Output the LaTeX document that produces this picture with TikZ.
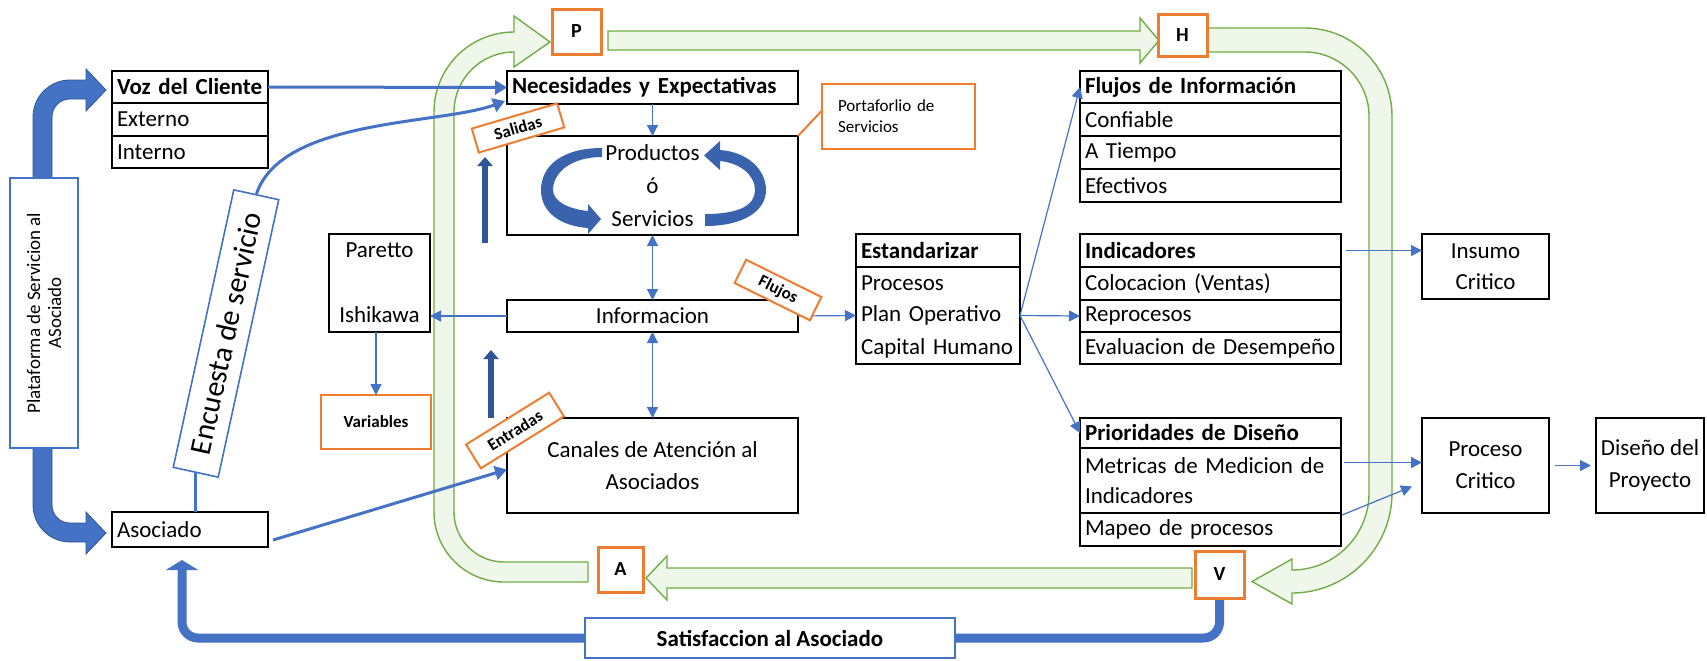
\documentclass[tikz,border=0pt]{standalone}
\usepackage{fontspec}
\setmainfont{Carlito}
\usetikzlibrary{arrows.meta,calc}
\definecolor{cblue}{HTML}{4472C4}
\definecolor{cdblue}{HTML}{2F5597}
\definecolor{cring}{HTML}{3A63AD}
\definecolor{corange}{HTML}{ED7D31}
\definecolor{cgreen}{HTML}{70AD47}
\definecolor{cgreenfill}{HTML}{EFF6EA}
\newcommand\bodyfs{\fontsize{11.5}{15}\selectfont}
\tikzset{
  spanC/.style n args={4}{inner sep=0pt, outer sep=0pt,
    minimum width={(#3-#1)*0.5pt}, minimum height={(#4-#2)*0.5pt},
    align=center, at={({(#1+#3)/2},{(#2+#4)/2})}},
  spanL/.style n args={4}{inner xsep=2.5pt, inner ysep=0pt, outer sep=0pt,
    text width={(#3-#1)*0.5pt-5pt}, minimum height={(#4-#2)*0.5pt},
    align=left, at={({(#1+#3)/2},{(#2+#4)/2})}},
  cell/.style={draw=black, line width=0.6pt, fill=white},
  tframe/.style={line width=1.1pt},
  nbox/.style={draw=black, line width=1.1pt, fill=white},
  obox/.style={draw=corange, line width=1pt, fill=white},
  pdca/.style={draw=corange, line width=1.5pt, fill=white, font=\fontsize{10}{12}\selectfont\bfseries},
  bluebox/.style={draw=cblue, line width=0.8pt, fill=white},
  tagbox/.style={draw=corange, line width=1pt, fill=white, inner sep=0pt, font=\fontsize{8.5}{10}\selectfont\bfseries},
  flowarrow/.style={draw=cblue, line width=0.6pt, -{Triangle[width=5.5pt,length=5.5pt]}},
  flowboth/.style={draw=cblue, line width=0.6pt, {Triangle[width=5.5pt,length=5.5pt]}-{Triangle[width=5.5pt,length=5.5pt]}},
  medarrow/.style={draw=cblue, line width=1.5pt, -{Triangle[width=7pt,length=6pt]}},
  band/.style={fill=cgreenfill, draw=cgreen, line width=0.7pt},
  bigarrow/.style={fill=cblue, draw=cdblue, line width=0.4pt},
  upthick/.style={draw=cdblue, line width=3pt, -{Triangle[width=7.5pt,length=4.5pt]}},
}
\begin{document}
\begin{tikzpicture}[x=0.5pt,y=-0.5pt, every node/.style={font=\bodyfs}]
\useasboundingbox (0,0) rectangle (1707,660);

% PDCA cycle band
\path[band] (588,582) -- (504,582) .. controls (465.3,582) and (434,550.7) .. (434,512) -- (434,112) .. controls (434,67.8) and (469.8,32) .. (514,32) -- (514,16) -- (550,42) -- (514,67) -- (514,52) .. controls (480.9,52) and (454,78.9) .. (454,112) -- (454,512) .. controls (454,539.6) and (476.4,562) .. (504,562) -- (588,562) -- cycle;
\path[band] (608,31) -- (1140,31) -- (1140,18) -- (1159,40.5) -- (1140,63) -- (1140,50) -- (608,50) -- cycle;
\path[band] (1207,28) -- (1305,28) .. controls (1353,28) and (1392,67) .. (1392,116) -- (1392,493) .. controls (1392,548) and (1347,593) .. (1292,593) -- (1292,604) -- (1252,581.5) -- (1292,559) -- (1292,570) .. controls (1334.5,570) and (1369,535.5) .. (1369,493) -- (1369,116) .. controls (1369,81) and (1340,52) .. (1305,52) -- (1207,52) -- cycle;
\path[band] (1192,568) -- (667,568) -- (667,556) -- (646,578) -- (667,600) -- (667,588) -- (1192,588) -- cycle;

% platform arrows
\path[bigarrow] (33,178) -- (33,117) .. controls (33,96.6) and (49.6,80) .. (70,80) -- (86,80) -- (86,69) -- (106,90) -- (86,111) -- (86,99) -- (70,99) .. controls (60,99) and (52,107) .. (52,117) -- (52,178) -- cycle;
\path[bigarrow] (33,448) -- (33,505) .. controls (33,525.4) and (49.6,542) .. (70,542) -- (86,542) -- (86,554) -- (106,533) -- (86,512) -- (86,523) -- (70,523) .. controls (60,523) and (52,515) .. (52,505) -- (52,448) -- cycle;

% left column
\node[bluebox, rotate=90, inner sep=0pt, minimum width=135pt, minimum height=34pt, align=center, font=\fontsize{9.5}{10.5}\selectfont] (plat) at (44,313) {Plataforma de Servicion al\\ASociado};
\node[cell, spanL={112}{71}{268}{103}, font=\bodyfs\bfseries] (vozh) {Voz del Cliente};
\node[cell, spanL={112}{103}{268}{136}] (vozr1) {Externo};
\node[cell, spanL={112}{136}{268}{168}] (vozr2) {Interno};
\draw[tframe] (vozh.north west) rectangle (vozr2.south east);
\draw[tframe] (vozh.south west) -- (vozh.south east);
\node[nbox, spanL={112}{512}{268}{547}] (asoc) {Asociado};
\node[bluebox, rotate=77.7, inner sep=0pt, minimum width=142pt, minimum height=23pt, font=\fontsize{15}{18}\selectfont] (enc) at (226,333.5) {Encuesta de servicio};
\node[nbox, spanC={329}{234}{430}{332}] (paretto) {Paretto\\[17.5pt]Ishikawa};
\node[obox, spanC={321}{395}{431}{449}, font=\fontsize{8.5}{10}\selectfont\bfseries] (var) {Variables};

% centre column
\node[nbox, spanL={507}{71}{798}{104}, font=\bodyfs\bfseries] (nec) {Necesidades y Expectativas};
\node[nbox, spanC={507}{136}{798}{235}, font=\fontsize{11.5}{16.5}\selectfont] (prod) {Productos\\ó\\Servicios};
\node[nbox, spanC={507}{300}{798}{332}] (info) {Informacion};
\node[nbox, spanC={507}{418}{798}{513}, font=\fontsize{11.5}{16}\selectfont] (can) {Canales de Atención al\\Asociados};
\node[obox, spanL={822}{84}{975}{149}, inner xsep=8pt, text width=60.5pt, font=\fontsize{8.5}{10.5}\selectfont] (port) {Portaforlio de\\Servicios};

% cycle stages
\node[pdca, spanC={552}{9}{601}{54}] (P) {P};
\node[pdca, spanC={1158}{14}{1207}{56}] (H) {H};
\node[pdca, spanC={598}{547}{643}{592}] (A) {A};
\node[pdca, spanC={1195}{551}{1244}{598}] (V) {V};

% Estandarizar
\node[cell, spanL={856}{234}{1020}{267}, font=\bodyfs\bfseries] (esth) {Estandarizar};
\node[spanL={856}{267}{1020}{299}] (estr1) {Procesos};
\node[spanL={856}{299}{1020}{332}] (estr2) {Plan Operativo};
\node[spanL={856}{332}{1020}{364}] (estr3) {Capital Humano};
\draw[tframe] (esth.north west) rectangle (estr3.south east);
\draw[tframe] (esth.south west) -- (esth.south east);

% right tables
\node[cell, spanL={1080}{71}{1341}{103}, font=\bodyfs\bfseries] (flh) {Flujos de Información};
\node[cell, spanL={1080}{103}{1341}{136}] (flr1) {Confiable};
\node[cell, spanL={1080}{136}{1341}{169}] (flr2) {A Tiempo};
\node[cell, spanL={1080}{169}{1341}{202}] (flr3) {Efectivos};
\draw[tframe] (flh.north west) rectangle (flr3.south east);
\draw[tframe] (flh.south west) -- (flh.south east);

\node[cell, spanL={1080}{234}{1341}{267}, font=\bodyfs\bfseries] (indh) {Indicadores};
\node[cell, spanL={1080}{267}{1341}{300}] (indr1) {Colocacion (Ventas)};
\node[cell, spanL={1080}{300}{1341}{332}] (indr2) {Reprocesos};
\node[cell, spanL={1080}{332}{1341}{364}] (indr3) {Evaluacion de Desempeño};
\draw[tframe] (indh.north west) rectangle (indr3.south east);
\draw[tframe] (indh.south west) -- (indh.south east);

\node[cell, spanL={1080}{418}{1341}{448}, font=\bodyfs\bfseries] (prih) {Prioridades de Diseño};
\node[cell, spanL={1080}{448}{1341}{513}] (prm) {Metricas de Medicion de\\Indicadores};
\node[cell, spanL={1080}{513}{1341}{546}] (mapeo) {Mapeo de procesos};
\draw[tframe] (prih.north west) rectangle (mapeo.south east);
\draw[tframe] (prih.south west) -- (prih.south east);
\draw[tframe] (prm.south west) -- (prm.south east);

\node[nbox, spanC={1422}{234}{1549}{299}, font=\fontsize{11.5}{15.5}\selectfont] (ins) {Insumo\\Critico};
\node[nbox, spanC={1422}{418}{1549}{513}, font=\fontsize{11.5}{16}\selectfont] (proc) {Proceso\\Critico};
\node[nbox, spanC={1596}{418}{1704}{513}, font=\fontsize{11.5}{16}\selectfont] (dis) {Diseño del\\Proyecto};

% rotating arrows inside the products box
\fill[cring] (602,148) .. controls (562,148) and (541,166) .. (541,190) .. controls (541,212) and (560,226) .. (588,228) -- (588,234) -- (601,219) -- (588,204) -- (588,211) .. controls (568,209) and (553,201) .. (553,190) .. controls (553,172) and (572,157) .. (602,157) -- cycle;
\fill[cring] (705,226) .. controls (745,226) and (766,210) .. (766,190) .. controls (766,170) and (748,152) .. (720,150) -- (720,141) -- (704,155.5) -- (720,170) -- (720,161) .. controls (740,163) and (755,175) .. (755,190) .. controls (755,205) and (740,214) .. (705,214) -- cycle;

% connectors
\draw[medarrow] (vozh.east) -- (nec.west);
\draw[medarrow] (enc.east) .. controls (282,118) and (440,125) .. ($(nec.south west)+(-2,-3)$);
\draw[draw=cblue, line width=1.5pt] (enc.west |- asoc.north) -- (enc.west);
\draw[medarrow] ($(asoc.south east)+(5,-7)$) -- ($(can.west)+(0,4)$);
\draw[flowarrow] (nec.south) -- (prod.north);
\draw[flowboth] (prod.south) -- (info.north);
\draw[flowboth] (info.south) -- (can.north);
\draw[flowarrow] (info.west) -- (paretto.east |- info.west);
\draw[flowarrow] (var.north |- paretto.south) -- (var.north);
\draw[corange, line width=1pt] ($(port.west)+(0,-6)$) -- (prod.north east);
\draw[flowarrow] (info.east) -- (estr2.west);
\draw[flowarrow] (estr2.east) -- (flh.west);
\draw[flowarrow] (estr2.east) -- (indr2.west);
\draw[flowarrow] (estr2.east) -- (prih.west);
\draw[flowarrow] ($(indh.east)+(5,0)$) -- (indh.east -| ins.west);
\draw[flowarrow] ($(proc.west -| prm.east)+(3,-3)$) -- ($(proc.west)+(0,-3)$);
\draw[flowarrow] ($(mapeo.north east)+(1,2)$) -- ($(proc.west)+(-10,21)$);
\draw[flowarrow] ($(proc.east)+(6,0)$) -- ($(dis.west)+(-5,0)$);

% outputs / inputs arrows
\coordinate (salFrom) at (485,243);
\coordinate (salTo) at (485,157);
\coordinate (entFrom) at (491,418);
\coordinate (entTo) at (491,350);
\draw[upthick] (salFrom) -- (salTo);
\draw[upthick] (entFrom) -- (entTo);

% satisfaction feedback loop
\coordinate (fbTip) at (182,560);
\coordinate (fbLevel) at (0,638);
\draw[cblue, line width=4.5pt, rounded corners=8pt, -{Triangle[width=16pt,length=5pt]}] ($(V.south)+(0,2)$) -- (V.south |- fbLevel) -- (fbTip |- fbLevel) -- (fbTip);
\node[bluebox, spanC={585}{618}{955}{658}, font=\bodyfs\bfseries] (sat) {Satisfaccion al Asociado};

% labels
\node[tagbox, rotate=16.4, minimum width=44.5pt, minimum height=12.5pt] (sal) at (518,128) {Salidas};
\node[tagbox, rotate=32, minimum width=49pt, minimum height=14pt] (ent) at (515,430.5) {Entradas};
\node[tagbox, rotate=-26.3, minimum width=42pt, minimum height=13pt] (flu) at (778,290) {Flujos};
\end{tikzpicture}
\end{document}
